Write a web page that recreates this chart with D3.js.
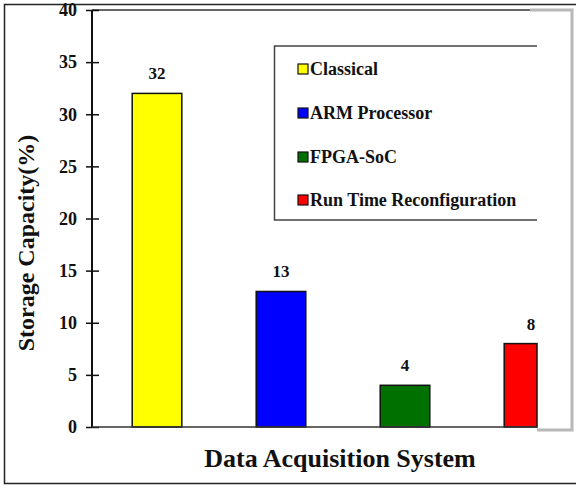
<!DOCTYPE html>
<html><head><meta charset="utf-8">
<script src="https://cdn.jsdelivr.net/npm/d3@7"></script>
<style>body{margin:0;background:#fff}svg{display:block}</style>
</head><body><svg id="c" width="576" height="487"></svg>
<script>
const categories = ["Classical", "ARM Processor", "FPGA-SoC", "Run Time Reconfiguration"];
const values = [32, 13, 4, 8];
const colors = ["#ffff00", "#0000ff", "#007000", "#ff0000"];
const yTicks = [0, 5, 10, 15, 20, 25, 30, 35, 40];
const yTitle = "Storage Capacity(%)";
const xTitle = "Data Acquisition System";

(function () {
const FONT = "Liberation Serif";
const svg = d3.select("#c");
const pLeft = 92, pTop = 10, pBottom = 427, clipRight = 537;
const x = d3.scaleBand().domain(categories).range([95, 591]).paddingInner(0.6).paddingOuter(0.3);
const y = d3.scaleLinear().domain([0, 40]).range([pBottom, pTop]);

// outer frame
svg.append("rect").attr("x", 4.5).attr("y", 4.5).attr("width", 580).attr("height", 479)
  .attr("fill", "none").attr("stroke", "#222").attr("stroke-width", 1.5);

// gray frame at right
svg.append("path").attr("d", `M${clipRight-7},${pTop}H572V${pBottom+3}H${clipRight}`)
  .attr("fill", "none").attr("stroke", "#b8b8b8").attr("stroke-width", 3);
// plot top border
svg.append("line").attr("x1", pLeft).attr("x2", clipRight - 7).attr("y1", pTop).attr("y2", pTop)
  .attr("stroke", "#333").attr("stroke-width", 1.5);

// bars
svg.selectAll("rect.bar").data(values).join("rect").attr("class", "bar")
  .attr("x", (d, i) => x(categories[i]))
  .attr("y", d => y(d))
  .attr("width", (d, i) => Math.min(x.bandwidth(), clipRight - x(categories[i])))
  .attr("height", d => pBottom - y(d))
  .attr("fill", (d, i) => colors[i]).attr("stroke", "#111").attr("stroke-width", 1.5);

svg.selectAll("text.val").data(values).join("text").attr("class", "val")
  .attr("x", (d, i) => x(categories[i]) + x.bandwidth() / 2 + (i === 3 ? 2 : 0))
  .attr("y", d => y(d) - 14)
  .attr("text-anchor", "middle").attr("font-size", 17).attr("font-family", FONT).attr("font-weight", "bold")
  .attr("fill", "#111").text(d => d);

// y axis
const ya = svg.append("g").attr("transform", `translate(${pLeft},0)`)
  .call(d3.axisLeft(y).tickValues(yTicks).tickSize(6).tickPadding(10));
ya.select(".domain").remove();
ya.selectAll(".tick line").attr("x1", -6).attr("x2", 7).attr("stroke", "#111").attr("stroke-width", 1.5);
ya.selectAll(".tick text").attr("font-size", 18).attr("fill", "#111")
  .attr("font-family", FONT).attr("font-weight", "bold").attr("x", -15);
svg.append("line").attr("x1", pLeft).attr("x2", pLeft).attr("y1", pTop).attr("y2", pBottom)
  .attr("stroke", "#111").attr("stroke-width", 2);
svg.append("line").attr("x1", pLeft).attr("x2", clipRight).attr("y1", pBottom).attr("y2", pBottom)
  .attr("stroke", "#333").attr("stroke-width", 1.5);

// titles
svg.append("text").attr("transform", `translate(34,243) rotate(-90)`)
  .attr("text-anchor", "middle").attr("font-size", 24).attr("font-family", FONT).attr("font-weight", "bold")
  .attr("fill", "#111").text(yTitle);
svg.append("text").attr("x", 340).attr("y", 467).attr("text-anchor", "middle")
  .attr("font-size", 26).attr("font-family", FONT).attr("font-weight", "bold")
  .attr("fill", "#111").text(xTitle);

// legend
const lg = svg.append("g");
lg.append("path").attr("d", "M537,46H274.5V220H537").attr("fill", "none").attr("stroke", "#444").attr("stroke-width", 1.5);
const rowY = [69, 113, 157, 200];
categories.forEach((c, i) => {
  lg.append("rect").attr("x", 298).attr("y", rowY[i] - 5).attr("width", 10).attr("height", 10)
    .attr("fill", colors[i]).attr("stroke", "#111").attr("stroke-width", 1.2);
  lg.append("text").attr("x", 310).attr("y", rowY[i] + 6).attr("font-size", 18)
    .attr("font-family", FONT).attr("font-weight", "bold").attr("fill", "#111").text(c);
});
})();
</script></body></html>
